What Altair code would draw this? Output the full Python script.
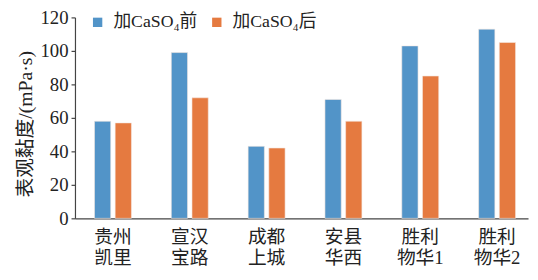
import altair as alt
import pandas as pd

sites = ["贵州\n凯里", "宣汉\n宝路", "成都\n上城", "安县\n华西", "胜利\n物华1", "胜利\n物华2"]
series = ["加CaSO₄前", "加CaSO₄后"]
before = [58, 99, 43, 71, 103, 113]
after = [57, 72, 42, 58, 85, 105]
colors = ["#5294c8", "#e57a40"]

rows = []
for s, b, a in zip(sites, before, after):
    rows.append({"site": s, "series": series[0], "value": b})
    rows.append({"site": s, "series": series[1], "value": a})
df = pd.DataFrame(rows)

FONT = "Liberation Serif, Times New Roman, Noto Sans CJK SC"

chart = alt.Chart(df).mark_bar(stroke="#f4e9e2", strokeWidth=0.6).encode(
    x=alt.X("site:N", sort=sites, title=None,
            scale=alt.Scale(paddingInner=0.519, paddingOuter=0.208, align=0.61),
            axis=alt.Axis(labelAngle=0, ticks=False, labelExpr="split(datum.label, '\\n')",
                          labelFontSize=19, labelFont=FONT, labelColor="#222",
                          labelPadding=10, labelLineHeight=21,
                          domainColor="#444", domainWidth=1.2)),
    xOffset=alt.XOffset("series:N", sort=series, scale=alt.Scale(paddingInner=0.214)),
    y=alt.Y("value:Q", title="表观黏度/(mPa·s)",
            scale=alt.Scale(domain=[0, 120], nice=False),
            axis=alt.Axis(values=[0, 20, 40, 60, 80, 100, 120], grid=False,
                          tickSize=4, tickColor="#444", tickWidth=1.2,
                          domainColor="#444", domainWidth=1.2,
                          labelFontSize=19, labelFont=FONT, labelColor="#222", labelPadding=3,
                          titleFontSize=20, titleFont=FONT, titleColor="#222",
                          titleFontWeight="normal", titlePadding=5, titleY=108)),
    color=alt.Color("series:N", sort=series,
                    scale=alt.Scale(domain=series, range=colors),
                    legend=alt.Legend(title=None, orient="none", legendX=14, legendY=-4,
                                      direction="horizontal", symbolType="square",
                                      symbolSize=90, symbolStrokeWidth=0,
                                      labelFontSize=18, labelFont=FONT, labelColor="#222",
                                      labelOffset=7, columnPadding=10, padding=0)),
).properties(
    width=460, height=204,
    autosize=alt.AutoSizeParams(type="none"),
    padding={"left": 68, "top": 7.5, "right": 2, "bottom": 57},
).configure_view(stroke=None)

chart.save("out.html", embed_options={"renderer": "svg", "actions": False})
